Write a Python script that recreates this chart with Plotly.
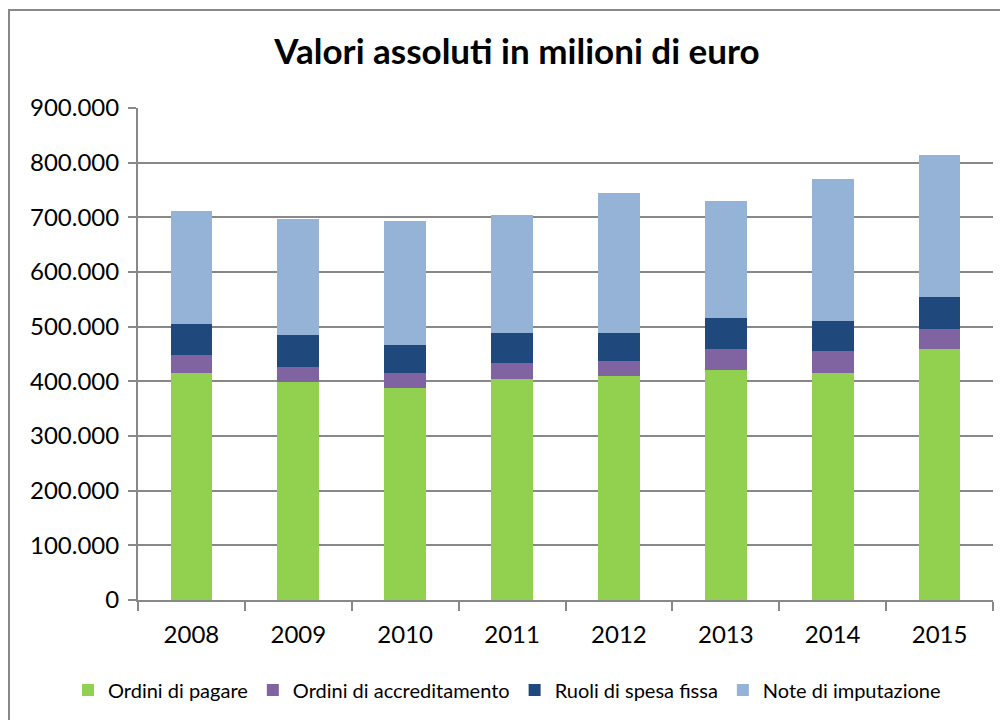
import plotly.graph_objects as go

years = ["2008", "2009", "2010", "2011", "2012", "2013", "2014", "2015"]
ordini_pagare = [416000, 398000, 387000, 405000, 409000, 420000, 416000, 460000]
ordini_accreditamento = [33000, 29000, 29000, 29000, 29000, 40000, 40000, 36000]
ruoli_spesa_fissa = [55000, 58000, 51000, 55000, 51000, 55000, 55000, 59000]
note_imputazione = [208000, 212000, 227000, 215000, 256000, 215000, 259000, 259000]

series = [
    ("Ordini di pagare", ordini_pagare, "#92D050"),
    ("Ordini di accreditamento", ordini_accreditamento, "#8064A2"),
    ("Ruoli di spesa fissa", ruoli_spesa_fissa, "#1F497D"),
    ("Note di imputazione", note_imputazione, "#95B3D7"),
]

fig = go.Figure()
for name, vals, col in series:
    fig.add_trace(go.Bar(x=years, y=vals, name=name, marker_color=col,
                         marker_line_width=0))

font_family = "Lato, 'Open Sans', sans-serif"
# page body has an 8px margin, so the layout is shifted accordingly
L, T, R, B = 130, 100, 23, 128
W, H = 1008, 720
pw = W - L - R
ph = H - T - B

fig.update_layout(
    barmode="stack",
    bargap=0.61,
    width=W, height=H,
    margin=dict(l=L, r=R, t=T, b=B, autoexpand=False),
    paper_bgcolor="white", plot_bgcolor="white",
    separators=",.",
    font=dict(family=font_family, color="black", size=20),
    title=dict(text="<b>Valori assoluti in milioni di euro</b>", x=(517 - 8) / W, xanchor="center",
               y=1 - (52 - 8) / H, yanchor="middle",
               font=dict(size=35, color="black", family=font_family)),
    legend=dict(orientation="h", x=(68 - 8 - L) / pw, xanchor="left",
                y=-(690 - 600) / ph, yanchor="middle",
                font=dict(size=20, family=font_family), traceorder="normal",
                itemwidth=30, tracegroupgap=0, itemclick=False),
    showlegend=True,
)
fig.update_yaxes(range=[0, 900000], dtick=100000, tickformat=",d",
                 showgrid=True, gridcolor="#888888", gridwidth=2,
                 showline=True, linecolor="#888888", linewidth=2,
                 ticks="outside", ticklen=8, tickcolor="#888888", tickwidth=2,
                 zeroline=False, tickfont=dict(size=24), ticklabelstandoff=4)
fig.update_xaxes(showgrid=False, showline=True, linecolor="#888888", linewidth=2,
                 ticks="outside", tickson="boundaries", ticklen=9, tickcolor="#888888",
                 tickwidth=2, tickfont=dict(size=24), ticklabelstandoff=12)

fig.add_shape(type="rect", xref="paper", yref="paper",
              x0=(1 - L) / pw, x1=(1020 - L) / pw,
              y0=-740 / ph, y1=(600 - 10) / ph,
              line=dict(color="#888888", width=2), fillcolor="rgba(0,0,0,0)", layer="below")

fig.write_html("out.html")
